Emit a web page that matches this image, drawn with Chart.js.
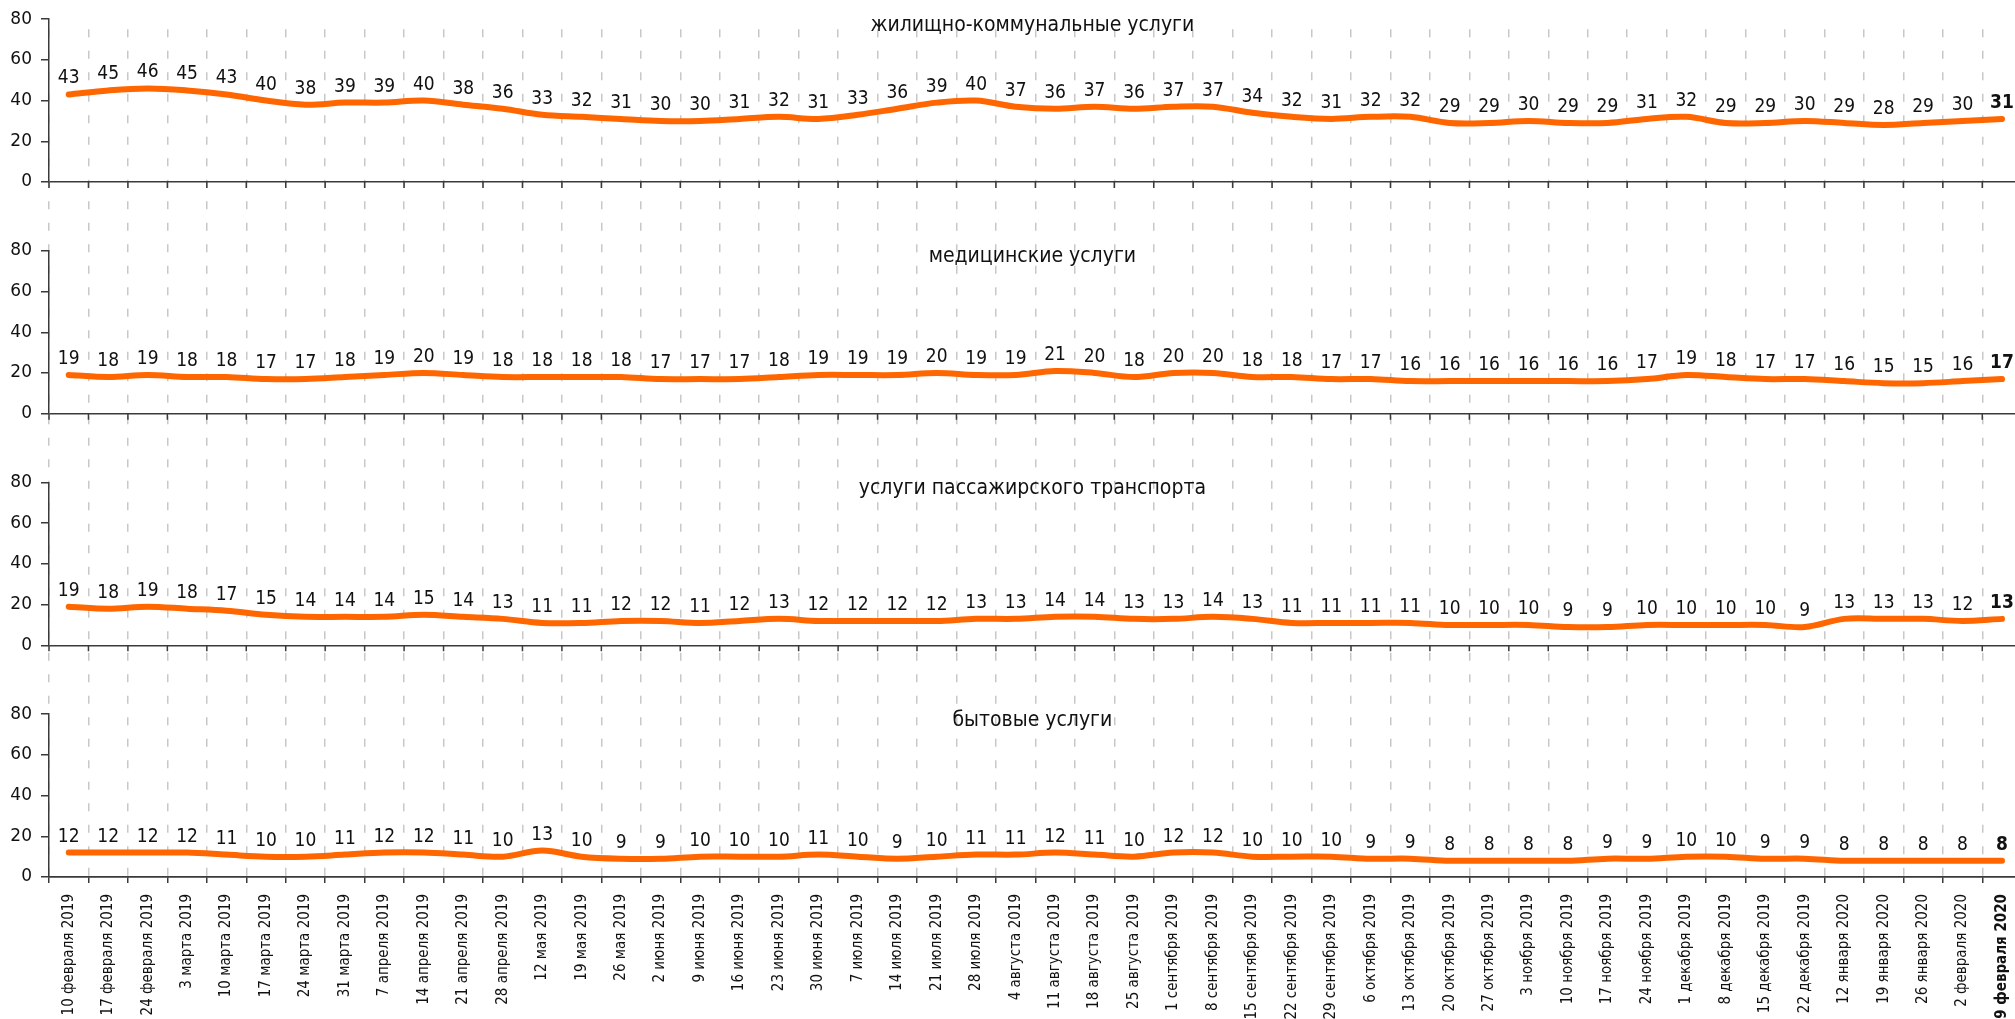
<!DOCTYPE html>
<html lang="ru">
<head>
<meta charset="utf-8">
<title>Услуги</title>
<script src="https://cdn.jsdelivr.net/npm/chart.js@4"></script>
<style>
    html, body { margin: 0; padding: 0; background: #fff; overflow: hidden; }
    #wrap { position: absolute; left: 0; top: 0; width: 2031px; height: 1019px; }
</style>
</head>
<body>
<div id="wrap"><canvas id="services-chart"></canvas></div>
<script>
const weeks = [
    '10 февраля 2019', '17 февраля 2019', '24 февраля 2019', '3 марта 2019', '10 марта 2019',
    '17 марта 2019', '24 марта 2019', '31 марта 2019', '7 апреля 2019', '14 апреля 2019',
    '21 апреля 2019', '28 апреля 2019', '12 мая 2019', '19 мая 2019', '26 мая 2019',
    '2 июня 2019', '9 июня 2019', '16 июня 2019', '23 июня 2019', '30 июня 2019',
    '7 июля 2019', '14 июля 2019', '21 июля 2019', '28 июля 2019', '4 августа 2019',
    '11 августа 2019', '18 августа 2019', '25 августа 2019', '1 сентября 2019', '8 сентября 2019',
    '15 сентября 2019', '22 сентября 2019', '29 сентября 2019', '6 октября 2019', '13 октября 2019',
    '20 октября 2019', '27 октября 2019', '3 ноября 2019', '10 ноября 2019', '17 ноября 2019',
    '24 ноября 2019', '1 декабря 2019', '8 декабря 2019', '15 декабря 2019', '22 декабря 2019',
    '12 января 2020', '19 января 2020', '26 января 2020', '2 февраля 2020', '9 февраля 2020'
];

const housing = [43, 45, 46, 45, 43, 40, 38, 39, 39, 40, 38, 36, 33, 32, 31, 30, 30, 31, 32, 31,
    33, 36, 39, 40, 37, 36, 37, 36, 37, 37, 34, 32, 31, 32, 32, 29, 29, 30, 29, 29,
    31, 32, 29, 29, 30, 29, 28, 29, 30, 31];
const medical = [19, 18, 19, 18, 18, 17, 17, 18, 19, 20, 19, 18, 18, 18, 18, 17, 17, 17, 18, 19,
    19, 19, 20, 19, 19, 21, 20, 18, 20, 20, 18, 18, 17, 17, 16, 16, 16, 16, 16, 16,
    17, 19, 18, 17, 17, 16, 15, 15, 16, 17];
const transport = [19, 18, 19, 18, 17, 15, 14, 14, 14, 15, 14, 13, 11, 11, 12, 12, 11, 12, 13, 12,
    12, 12, 12, 13, 13, 14, 14, 13, 13, 14, 13, 11, 11, 11, 11, 10, 10, 10, 9, 9,
    10, 10, 10, 10, 9, 13, 13, 13, 12, 13];
const household = [12, 12, 12, 12, 11, 10, 10, 11, 12, 12, 11, 10, 13, 10, 9, 9, 10, 10, 10, 11,
    10, 9, 10, 11, 11, 12, 11, 10, 12, 12, 10, 10, 10, 9, 9, 8, 8, 8, 8, 9,
    9, 10, 10, 9, 9, 8, 8, 8, 8, 8];

const panelTitles = ['жилищно-коммунальные услуги', 'медицинские услуги',
    'услуги пассажирского транспорта', 'бытовые услуги'];
const yTicks = [0, 20, 40, 60, 80];

const ORANGE = '#ff6600';
const AXIS = '#3a3a3a';
const TEXT = '#111';
const NARROW = '"Liberation Sans Narrow", "DejaVu Sans Condensed", sans-serif';
const panelIds = ['y1', 'y2', 'y3', 'y4'];
const lastIndex = weeks.length - 1;

const makeLine = function (values, axisId) {
    return {
        data: values,
        yAxisID: axisId,
        borderColor: ORANGE,
        borderWidth: 6,
        borderCapStyle: 'round',
        borderJoinStyle: 'round',
        tension: 0.35,
        pointRadius: 0,
        fill: false,
    };
};

const panelAxis = function () {
    return {
        type: 'linear',
        position: 'left',
        stack: 'panels',
        stackWeight: 163,
        min: yTicks[0],
        max: yTicks[yTicks.length - 1],
        afterBuildTicks: function (scale) {
            scale.ticks = yTicks.map(v => ({value: v}));
        },
        afterFit: function (scale) {
            scale.width = 49;
        },
        border: {display: true, color: AXIS, width: 1.5},
        grid: {
            color: c => (c.tick && c.tick.value === 0) ? AXIS : 'rgba(0,0,0,0)',
            lineWidth: 1.5,
            tickColor: AXIS,
            tickLength: 8,
            tickWidth: 1.5,
        },
        ticks: {
            color: TEXT,
            padding: 9,
            font: {family: '"DejaVu Sans", sans-serif', size: 17},
        },
    };
};

const spacerAxis = function () {
    return {
        type: 'linear',
        position: 'left',
        stack: 'panels',
        stackWeight: 69,
        display: false,
        min: 0,
        max: 1,
    };
};

// value labels above every point, the last one in bold
const valueLabels = {
    id: 'valueLabels',
    afterDatasetsDraw(chart) {
        const ctx = chart.ctx;
        ctx.save();
        ctx.fillStyle = TEXT;
        ctx.textAlign = 'center';
        ctx.textBaseline = 'alphabetic';
        chart.data.datasets.forEach((ds, di) => {
            const meta = chart.getDatasetMeta(di);
            meta.data.forEach((pt, i) => {
                ctx.font = (i === lastIndex ? 'bold ' : '') + '19px ' + NARROW;
                ctx.fillText(String(ds.data[i]), pt.x, pt.y - 11);
            });
        });
        ctx.restore();
    }
};

// panel titles and the small tick marks under the upper panels' zero lines
const panelDecor = {
    id: 'panelDecor',
    afterDraw(chart) {
        const ctx = chart.ctx;
        const xScale = chart.scales.x;
        const area = chart.chartArea;
        const center = (area.left + area.right) / 2 - 3;
        ctx.save();
        panelIds.forEach((id, p) => {
            const ys = chart.scales[id];
            ctx.fillStyle = TEXT;
            ctx.font = '21px ' + NARROW;
            ctx.textAlign = 'center';
            ctx.textBaseline = 'middle';
            ctx.fillText(panelTitles[p], center, ys.getPixelForValue(80) + 6);
            if (p < panelIds.length - 1) {
                const y0 = ys.getPixelForValue(0);
                ctx.strokeStyle = AXIS;
                ctx.lineWidth = 1.5;
                ctx.beginPath();
                for (let i = 0; i <= weeks.length; i++) {
                    const x = xScale.getPixelForValue(i - 0.5);
                    ctx.moveTo(x, y0);
                    ctx.lineTo(x, y0 + 6);
                }
                ctx.stroke();
            }
        });
        ctx.restore();
    }
};

// stacked axes are laid out bottom-up, so the lowest panel comes first
const chart = new Chart(document.getElementById('services-chart'), {
    type: 'line',
    data: {
        labels: weeks,
        datasets: [
            makeLine(housing, 'y1'),
            makeLine(medical, 'y2'),
            makeLine(transport, 'y3'),
            makeLine(household, 'y4'),
        ]
    },
    options: {
        responsive: true,
        maintainAspectRatio: false,
        animation: false,
        layout: {padding: {top: 18, left: 0, right: 0, bottom: 0}},
        plugins: {
            legend: {display: false},
            tooltip: {enabled: false},
            title: {display: false},
        },
        scales: {
            x: {
                type: 'category',
                offset: true,
                afterFit: function (scale) {
                    scale.height = 142;
                },
                border: {display: true, color: AXIS, width: 1.5, dash: [8, 13.5], dashOffset: 11.5},
                grid: {
                    offset: true,
                    color: '#c8c8c8',
                    lineWidth: 1.5,
                    tickColor: AXIS,
                    tickLength: 6,
                    tickWidth: 1.5,
                },
                ticks: {
                    autoSkip: false,
                    minRotation: 90,
                    maxRotation: 90,
                    padding: 11,
                    color: TEXT,
                    font: c => ({family: NARROW, size: 15, weight: c.index === lastIndex ? 'bold' : 'normal'}),
                },
            },
            y4: panelAxis(),
            s3: spacerAxis(),
            y3: panelAxis(),
            s2: spacerAxis(),
            y2: panelAxis(),
            s1: spacerAxis(),
            y1: panelAxis(),
        }
    },
    plugins: [valueLabels, panelDecor],
});
</script>
</body>
</html>
